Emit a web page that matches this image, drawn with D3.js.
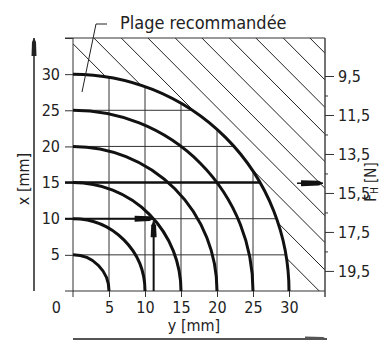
<!DOCTYPE html>
<meta charset="utf-8">
<style>
    body { margin: 0; background: #fff; }
    svg { display: block; }
    text {
        font-family: "DejaVu Sans Condensed", "DejaVu Sans", sans-serif;
        font-stretch: condensed;
        fill: #222;
    }
    .axis text { font-size: 16px; }
    .axis .domain { display: none; }
    .axis line { stroke: #333; stroke-width: 1; }
</style>
<svg width="379" height="340"></svg>
<script src="https://cdn.jsdelivr.net/npm/d3@7"></script>
<script>
    // values
    var radii = [5, 10, 15, 20, 25, 30];
    var gridTicks = [5, 10, 15, 20, 25, 30];
    var edgeTicks = [5, 10, 15, 20, 25, 30, 35];
    var fTicks = [9.5, 11.5, 13.5, 15.5, 17.5, 19.5];
    var fMinor = [10.5, 12.5, 14.5, 16.5, 18.5];
    // hatch lines x + y = c, outside the recommended range
    var hatchSums = [34.2, 37.9, 41.7, 45.4, 49.2, 52.9, 56.7, 60.4, 64.2, 67.9];
    // reading examples (x, y) and resulting force
    var example1 = { x: 10, y: 11.2 };
    var example2 = { x: 15, y: 26, f: 15 };

    var svg = d3.select("svg");

    var x = d3.scaleLinear().domain([0, 35]).range([73, 325]),
        y = d3.scaleLinear().domain([0, 35]).range([291, 38]),
        f = d3.scaleLinear().domain([7.55, 20.53]).range([38, 291]);

    var rMax = d3.max(radii);
    var quarter = function (r) {
        return "M" + x(0) + "," + y(r) +
            "A" + (x(r) - x(0)) + "," + (y(0) - y(r)) + " 0 0 1 " + x(r) + "," + y(0);
    };

    var defs = svg.append("defs");
    defs.append("clipPath").attr("id", "box")
        .append("rect")
        .attr("x", x(0)).attr("y", y(35))
        .attr("width", x(35) - x(0)).attr("height", y(0) - y(35));
    defs.append("clipPath").attr("id", "disk")
        .append("path")
        .attr("d", quarter(rMax) + "L" + x(0) + "," + y(0) + "Z");

    // hatching
    svg.append("g").attr("clip-path", "url(#box)")
        .selectAll("line").data(hatchSums).join("line")
        .attr("x1", x(0)).attr("y1", function (c) { return y(c); })
        .attr("x2", function (c) { return x(c); }).attr("y2", y(0))
        .attr("stroke", "#222").attr("stroke-width", 1);

    svg.append("path")
        .attr("d", quarter(rMax) + "L" + x(0) + "," + y(0) + "Z")
        .attr("fill", "#fff");

    // grid inside the recommended range
    var grid = svg.append("g").attr("clip-path", "url(#disk)")
        .attr("stroke", "#333").attr("stroke-width", 1);
    grid.selectAll(".v").data(gridTicks).join("line").attr("class", "v")
        .attr("x1", function (d) { return x(d); }).attr("x2", function (d) { return x(d); })
        .attr("y1", y(0)).attr("y2", y(35));
    grid.selectAll(".h").data(gridTicks).join("line").attr("class", "h")
        .attr("y1", function (d) { return y(d); }).attr("y2", function (d) { return y(d); })
        .attr("x1", x(0)).attr("x2", x(35));

    // box edges
    svg.append("path")
        .attr("d", "M" + (x(0) - 8) + "," + y(35) + "H" + x(35) +
            "M" + (x(0) - 8) + "," + y(0) + "H" + x(35) +
            "M" + x(0) + "," + y(35) + "V" + (y(0) + 6))
        .attr("stroke", "#333").attr("fill", "none");

    // left axis
    var yAxis = d3.axisLeft(y).tickValues(edgeTicks).tickSize(8).tickPadding(5)
        .tickFormat(function (d) { return d === 35 ? "" : d; });
    svg.append("g").attr("class", "axis")
        .attr("transform", "translate(" + x(0) + ",0)")
        .call(yAxis);

    // bottom axis
    var xAxis = d3.axisBottom(x).tickValues(gridTicks).tickSize(6).tickPadding(5);
    svg.append("g").attr("class", "axis")
        .attr("transform", "translate(0," + y(0) + ")")
        .call(xAxis);
    svg.append("text")
        .attr("x", 61).attr("y", y(0) + 11).attr("dy", "0.71em")
        .attr("text-anchor", "end").style("font-size", "16px")
        .text("0");

    // right force axis
    svg.append("line")
        .attr("x1", x(35)).attr("x2", x(35))
        .attr("y1", y(35)).attr("y2", y(0) + 6)
        .attr("stroke", "#444").attr("stroke-width", 1.5);
    var fAxis = d3.axisRight(f).tickValues(fTicks).tickSize(9).tickPadding(4)
        .tickFormat(function (d) { return d3.format(".1f")(d).replace(".", ","); });
    svg.append("g").attr("class", "axis")
        .attr("transform", "translate(" + x(35) + ",0)")
        .call(fAxis);
    svg.append("g").attr("class", "axis")
        .attr("transform", "translate(" + x(35) + ",0)")
        .call(d3.axisRight(f).tickValues(fMinor).tickSize(3).tickFormat(""));

    // thick curves
    svg.append("g").selectAll("path").data(radii).join("path")
        .attr("d", quarter)
        .attr("fill", "none").attr("stroke", "#111").attr("stroke-width", 3);

    // arrows
    var head = function (x0, y0, x1, y1, len, w) {
        var a = Math.atan2(y1 - y0, x1 - x0);
        var pts = [[-len, -w], [-4, -w * 0.8], [0, 0], [-4, w * 0.8], [-len, w]];
        return "M" + pts.map(function (p) {
            return [x1 + p[0] * Math.cos(a) - p[1] * Math.sin(a),
                y1 + p[0] * Math.sin(a) + p[1] * Math.cos(a)].join(",");
        }).join("L") + "Z";
    };
    var arrow = function (x0, y0, x1, y1, len, w, sw, col) {
        svg.append("line")
            .attr("x1", x0).attr("y1", y0).attr("x2", x1).attr("y2", y1)
            .attr("stroke", col).attr("stroke-width", sw);
        svg.append("path").attr("d", head(x0, y0, x1, y1, len, w)).attr("fill", col);
    };

    // example 1: x = 10 to curve, then down to y
    arrow(x(0) - 8, y(example1.x), x(example1.y), y(example1.x), 19, 3, 2, "#111");
    arrow(x(example1.y), y(0), x(example1.y), y(example1.x) + 2.5, 16, 3, 2, "#111");
    // example 2: x = 15 to curve 30, then force
    svg.append("line")
        .attr("x1", x(0) - 8).attr("x2", x(example2.y))
        .attr("y1", y(example2.x)).attr("y2", y(example2.x))
        .attr("stroke", "#111").attr("stroke-width", 2.5);
    arrow(297, f(example2.f), x(35) - 2, f(example2.f), 22, 3, 1.5, "#111");

    // axis direction arrows
    arrow(34, y(0), 34, y(35), 18, 2.5, 1.5, "#222");
    arrow(x(0), 339, x(35) + 2, 339, 22, 2.5, 2, "#555");

    // labels
    svg.append("text")
        .attr("transform", "translate(29,179) rotate(-90)")
        .attr("text-anchor", "middle").style("font-size", "16px")
        .text("x [mm]");
    svg.append("text")
        .attr("x", 194).attr("y", 331)
        .attr("text-anchor", "middle").style("font-size", "16px")
        .text("y [mm]");
    var fl = svg.append("text")
        .attr("transform", "translate(376,182) rotate(-90)")
        .attr("text-anchor", "middle").style("font-size", "15px");
    fl.append("tspan").text("F");
    fl.append("tspan").attr("dy", 2).style("font-size", "10px").text("H");
    fl.append("tspan").attr("dy", -2).text(" [N]");

    svg.append("text")
        .attr("x", 120).attr("y", 29)
        .style("font-size", "18px")
        .text("Plage recommandée");
    svg.append("path")
        .attr("d", "M107,24H96L82,92")
        .attr("stroke", "#222").attr("fill", "none");
</script>
